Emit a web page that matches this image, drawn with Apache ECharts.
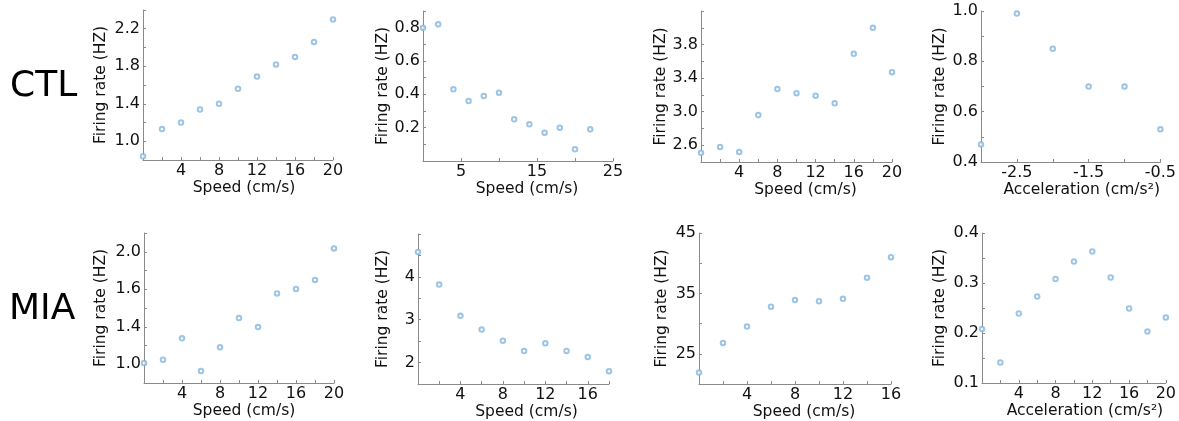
<!DOCTYPE html>
<html>
<head>
<meta charset="utf-8">
<script src="https://cdn.jsdelivr.net/npm/echarts@6/dist/echarts.min.js"></script>
<style>
html,body{margin:0;padding:0;background:#fff;}
#chart{width:1179px;height:421px;}
</style>
</head>
<body>
<div id="chart"></div>
<script>
// ---- Data ----
const rowLabels = ['CTL', 'MIA'];
const speedName = 'Speed (cm/s)';
const accelName = 'Acceleration (cm/s²)';
const rateName = 'Firing rate (HZ)';

// CTL panel A (speed)
const ctlSpeedAX = [0, 2, 4, 6, 8, 10, 12, 14, 16, 18, 20];
const ctlSpeedAY = [0.84, 1.13, 1.20, 1.34, 1.40, 1.56, 1.69, 1.82, 1.90, 2.06, 2.30];
const ctlSpeedAXTicks = [0, 2, 4, 6, 8, 10, 12, 14, 16, 18, 20];
const ctlSpeedAXLabels = ['4', '8', '12', '16', '20'];
const ctlSpeedAYTicks = [0.8, 1.0, 1.2, 1.4, 1.6, 1.8, 2.0, 2.2, 2.4];
const ctlSpeedAYLabels = ['1.0', '1.4', '1.8', '2.2'];

// CTL panel B (speed)
const ctlSpeedBX = [0, 2, 4, 6, 8, 10, 12, 14, 16, 18, 20, 22];
const ctlSpeedBY = [0.80, 0.82, 0.43, 0.36, 0.39, 0.41, 0.25, 0.22, 0.17, 0.20, 0.07, 0.19];
const ctlSpeedBXTicks = [0, 5, 10, 15, 20, 25];
const ctlSpeedBXLabels = ['5', '15', '25'];
const ctlSpeedBYTicks = [0, 0.1, 0.2, 0.3, 0.4, 0.5, 0.6, 0.7, 0.8, 0.9];
const ctlSpeedBYLabels = ['0.2', '0.4', '0.6', '0.8'];

// CTL panel C (speed)
const ctlSpeedCX = [0, 2, 4, 6, 8, 10, 12, 14, 16, 18, 20];
const ctlSpeedCY = [2.51, 2.58, 2.52, 2.96, 3.27, 3.22, 3.19, 3.10, 3.69, 4.00, 3.47];
const ctlSpeedCXTicks = [0, 2, 4, 6, 8, 10, 12, 14, 16, 18, 20];
const ctlSpeedCXLabels = ['4', '8', '12', '16', '20'];
const ctlSpeedCYTicks = [2.4, 2.6, 2.8, 3.0, 3.2, 3.4, 3.6, 3.8, 4.0, 4.2];
const ctlSpeedCYLabels = ['2.6', '3.0', '3.4', '3.8'];

// CTL panel D (acceleration)
const ctlAccelX = [-3, -2.5, -2, -1.5, -1, -0.5];
const ctlAccelY = [0.47, 0.99, 0.85, 0.70, 0.70, 0.53];
const ctlAccelXTicks = [-3, -2.5, -2, -1.5, -1, -0.5];
const ctlAccelXLabels = ['-2.5', '-1.5', '-0.5'];
const ctlAccelYTicks = [0.4, 0.5, 0.6, 0.7, 0.8, 0.9, 1.0];
const ctlAccelYLabels = ['0.4', '0.6', '0.8', '1.0'];

// MIA panel A (speed)
const miaSpeedAX = [0, 2, 4, 6, 8, 10, 12, 14, 16, 18, 20];
const miaSpeedAY = [1.01, 1.04, 1.23, 0.94, 1.15, 1.41, 1.33, 1.63, 1.67, 1.75, 2.03];
const miaSpeedAXTicks = [0, 2, 4, 6, 8, 10, 12, 14, 16, 18, 20];
const miaSpeedAXLabels = ['4', '8', '12', '16', '20'];
const miaSpeedAYTicks = [0.8333, 1.0, 1.1667, 1.3333, 1.5, 1.6667, 1.8333, 2.0, 2.1667];
const miaSpeedAYLabels = ['1.0', '1.4', '1.6', '2.0'];
const miaSpeedAYLabelPos = [1.0, 1.3333, 1.6667, 2.0];

// MIA panel B (speed)
const miaSpeedBX = [0, 2, 4, 6, 8, 10, 12, 14, 16, 18];
const miaSpeedBY = [4.58, 3.82, 3.09, 2.77, 2.51, 2.27, 2.45, 2.27, 2.13, 1.80];
const miaSpeedBXTicks = [0, 2, 4, 6, 8, 10, 12, 14, 16, 18];
const miaSpeedBXLabels = ['4', '8', '12', '16'];
const miaSpeedBYTicks = [1.5, 2, 2.5, 3, 3.5, 4, 4.5, 5];
const miaSpeedBYLabels = ['2', '3', '4'];

// MIA panel C (speed)
const miaSpeedCX = [0, 2, 4, 6, 8, 10, 12, 14, 16];
const miaSpeedCY = [21.9, 26.8, 29.5, 32.8, 33.9, 33.7, 34.1, 37.6, 41.0];
const miaSpeedCXTicks = [0, 2, 4, 6, 8, 10, 12, 14, 16];
const miaSpeedCXLabels = ['4', '8', '12', '16'];
const miaSpeedCYTicks = [20, 25, 30, 35, 40, 45];
const miaSpeedCYLabels = ['25', '35', '45'];

// MIA panel D (acceleration)
const miaAccelX = [0, 2, 4, 6, 8, 10, 12, 14, 16, 18, 20];
const miaAccelY = [0.208, 0.141, 0.239, 0.273, 0.308, 0.343, 0.363, 0.311, 0.249, 0.203, 0.231];
const miaAccelXTicks = [0, 2, 4, 6, 8, 10, 12, 14, 16, 18, 20];
const miaAccelXLabels = ['4', '8', '12', '16', '20'];
const miaAccelYTicks = [0.1, 0.15, 0.2, 0.25, 0.3, 0.35, 0.4];
const miaAccelYLabels = ['0.1', '0.2', '0.3', '0.4'];

// ---- Layout ----
const panels = [
  {x: ctlSpeedAX, y: ctlSpeedAY, xt: ctlSpeedAXTicks, xl: ctlSpeedAXLabels, yt: ctlSpeedAYTicks, yl: ctlSpeedAYLabels, xn: speedName,
   grid: {left: 143, top: 10, width: 190, height: 150}, yGap: 34, xShift: 6},
  {x: ctlSpeedBX, y: ctlSpeedBY, xt: ctlSpeedBXTicks, xl: ctlSpeedBXLabels, yt: ctlSpeedBYTicks, yl: ctlSpeedBYLabels, xn: speedName,
   grid: {left: 423, top: 11, width: 190, height: 150}, yGap: 31, xShift: 9},
  {x: ctlSpeedCX, y: ctlSpeedCY, xt: ctlSpeedCXTicks, xl: ctlSpeedCXLabels, yt: ctlSpeedCYTicks, yl: ctlSpeedCYLabels, xn: speedName,
   grid: {left: 701, top: 11, width: 191, height: 151}, yGap: 31, xShift: 9},
  {x: ctlAccelX, y: ctlAccelY, xt: ctlAccelXTicks, xl: ctlAccelXLabels, yt: ctlAccelYTicks, yl: ctlAccelYLabels, xn: accelName,
   grid: {left: 981, top: 11, width: 191, height: 151}, yGap: 33, xShift: 11},
  {x: miaSpeedAX, y: miaSpeedAY, xt: miaSpeedAXTicks, xl: miaSpeedAXLabels, yt: miaSpeedAYTicks, yl: miaSpeedAYLabels, ylp: miaSpeedAYLabelPos, xn: speedName,
   grid: {left: 144, top: 233, width: 190, height: 150}, yGap: 35, xShift: 5},
  {x: miaSpeedBX, y: miaSpeedBY, xt: miaSpeedBXTicks, xl: miaSpeedBXLabels, yt: miaSpeedBYTicks, yl: miaSpeedBYLabels, xn: speedName,
   grid: {left: 418, top: 234, width: 191, height: 150}, yGap: 27, xShift: 13},
  {x: miaSpeedCX, y: miaSpeedCY, xt: miaSpeedCXTicks, xl: miaSpeedCXLabels, yt: miaSpeedCYTicks, yl: miaSpeedCYLabels, xn: speedName,
   grid: {left: 699, top: 233, width: 192, height: 151}, yGap: 29, xShift: 9},
  {x: miaAccelX, y: miaAccelY, xt: miaAccelXTicks, xl: miaAccelXLabels, yt: miaAccelYTicks, yl: miaAccelYLabels, xn: accelName,
   grid: {left: 982, top: 233, width: 188, height: 150}, yGap: 34, xShift: 11}
];

const FONT = 'DejaVu Sans';
const AXIS_COLOR = '#8a8a8a';
const TEXT_COLOR = '#111';
const POINT_COLOR = '#86b5dd';

function labelFormatter(labels, positions) {
  const pos = positions || labels.map(Number);
  return function (v) {
    for (let i = 0; i < pos.length; i++) {
      if (Math.abs(pos[i] - v) < 1e-6) return labels[i];
    }
    return '';
  };
}

const grids = [], xAxes = [], yAxes = [], series = [];
panels.forEach((p, i) => {
  grids.push(Object.assign({containLabel: false}, p.grid));
  const xLabelPos = p.xl.map(Number);
  const yLabelPos = p.ylp || p.yl.map(Number);
  xAxes.push({
    type: 'value', gridIndex: i,
    min: p.xt[0], max: p.xt[p.xt.length - 1],
    name: p.xn, nameLocation: 'middle', nameGap: 18,
    nameTextStyle: {fontFamily: FONT, fontSize: 15.5, color: TEXT_COLOR, padding: [0, 0, 0, p.xShift * 2]},
    axisLine: {show: true, onZero: false, lineStyle: {color: AXIS_COLOR, width: 1}},
    axisTick: {show: true, inside: true, length: 3, lineStyle: {color: AXIS_COLOR}, customValues: p.xt},
    axisLabel: {show: true, margin: 3, fontFamily: FONT, fontSize: 16, color: TEXT_COLOR,
      customValues: xLabelPos, formatter: labelFormatter(p.xl, xLabelPos)},
    splitLine: {show: false}
  });
  yAxes.push({
    type: 'value', gridIndex: i,
    min: p.yt[0], max: p.yt[p.yt.length - 1],
    name: rateName, nameLocation: 'middle', nameGap: p.yGap,
    nameTextStyle: {fontFamily: FONT, fontSize: 15.5, color: TEXT_COLOR},
    axisLine: {show: true, onZero: false, lineStyle: {color: AXIS_COLOR, width: 1}},
    axisTick: {show: true, inside: true, length: 3, lineStyle: {color: AXIS_COLOR}, customValues: p.yt},
    axisLabel: {show: true, margin: 3, fontFamily: FONT, fontSize: 16, color: TEXT_COLOR,
      customValues: yLabelPos, formatter: labelFormatter(p.yl, yLabelPos)},
    splitLine: {show: false}
  });
  series.push({
    type: 'scatter', xAxisIndex: i, yAxisIndex: i,
    symbol: 'emptyCircle', symbolSize: 4.5, clip: false,
    itemStyle: {color: POINT_COLOR, borderColor: POINT_COLOR, borderWidth: 1},
    data: p.x.map((xv, k) => [xv, p.y[k]]),
    silent: true
  });
});

const chart = echarts.init(document.getElementById('chart'), null, {renderer: 'canvas'});
chart.setOption({
  animation: false,
  backgroundColor: '#fff',
  grid: grids,
  xAxis: xAxes,
  yAxis: yAxes,
  series: series,
  graphic: [
    {type: 'text', left: 10, top: 69, style: {text: rowLabels[0], fontFamily: FONT, fontSize: 36, fill: '#000'}},
    {type: 'text', left: 9, top: 292, style: {text: rowLabels[1], fontFamily: FONT, fontSize: 36, fill: '#000'}}
  ]
});
</script>
</body>
</html>
